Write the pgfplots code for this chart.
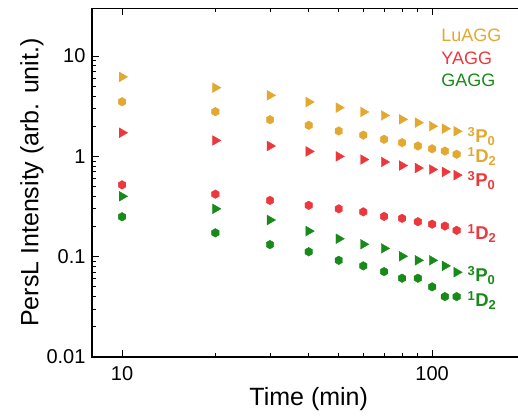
\documentclass[border=0pt]{standalone}
\usepackage{fontspec}
\setmainfont{Liberation Sans}
\usepackage{pgfplots}
\pgfplotsset{compat=1.18}

\definecolor{luagg}{RGB}{227,168,48}
\definecolor{yagg}{RGB}{236,56,60}
\definecolor{gagg}{RGB}{24,138,26}

% filled hexagon mark
\pgfdeclareplotmark{hexagon*}{%
  \pgfpathmoveto{\pgfpointpolar{90}{\pgfplotmarksize}}%
  \pgfpathlineto{\pgfpointpolar{150}{\pgfplotmarksize}}%
  \pgfpathlineto{\pgfpointpolar{210}{\pgfplotmarksize}}%
  \pgfpathlineto{\pgfpointpolar{270}{\pgfplotmarksize}}%
  \pgfpathlineto{\pgfpointpolar{330}{\pgfplotmarksize}}%
  \pgfpathlineto{\pgfpointpolar{30}{\pgfplotmarksize}}%
  \pgfpathclose\pgfusepathqfillstroke}

\newcommand{\lvl}[3]{\textsuperscript{#1}#2\textsubscript{#3}}

\begin{document}
\begin{tikzpicture}
\begin{axis}[
  at={(0pt,0pt)}, anchor=south west,
  scale only axis, width=433.4pt, height=348.8pt,
  xmode=log, ymode=log,
  xmin=8, xmax=200, ymin=0.01, ymax=30,
  xtick={10,100}, xticklabels={10,100},
  ytick={0.01,0.1,1,10}, yticklabels={0.01,0.1,1,10},
  tick align=inside,
  major tick length=7pt, minor tick length=3.8pt,
  axis line style={line width=1.1pt},
  every tick/.style={black, line width=0.9pt},
  /pgf/number format/assume math mode=true,
  ticklabel style={font=\fontsize{20}{24}\selectfont},
  xticklabel style={yshift=-6pt},
  yticklabel style={xshift=-3pt},
  xlabel={Time (min)}, ylabel={PersL Intensity (arb. unit.)},
  label style={font=\fontsize{25}{30}\selectfont},
  xlabel style={yshift=0pt},
  ylabel style={yshift=-4pt},
  clip=false,
]
% 3P0 emission (triangles)
\addplot[only marks, mark=triangle*, mark size=5.6pt, color=luagg,
  every mark/.append style={rotate=-90}] coordinates {
  (10,6.2) (20,4.84) (30,4.06) (40,3.48) (50,3.06) (60,2.77)
  (70,2.56) (80,2.34) (90,2.17) (100,2.0) (110,1.89) (120,1.78)};
\addplot[only marks, mark=triangle*, mark size=5.6pt, color=yagg,
  every mark/.append style={rotate=-90}] coordinates {
  (10,1.72) (20,1.44) (30,1.27) (40,1.12) (50,1.0) (60,0.93)
  (70,0.88) (80,0.81) (90,0.765) (100,0.74) (110,0.70) (120,0.65)};
\addplot[only marks, mark=triangle*, mark size=5.6pt, color=gagg,
  every mark/.append style={rotate=-90}] coordinates {
  (10,0.40) (20,0.30) (30,0.232) (40,0.18) (50,0.151) (60,0.133)
  (70,0.121) (80,0.101) (90,0.092) (100,0.092) (110,0.081) (120,0.070)};
% 1D2 emission (hexagons)
\addplot[only marks, mark=hexagon*, mark size=4.3pt, color=luagg] coordinates {
  (10,3.5) (20,2.79) (30,2.32) (40,2.04) (50,1.79) (60,1.63)
  (70,1.48) (80,1.37) (90,1.27) (100,1.19) (110,1.13) (120,1.05)};
\addplot[only marks, mark=hexagon*, mark size=4.3pt, color=yagg] coordinates {
  (10,0.52) (20,0.42) (30,0.364) (40,0.325) (50,0.30) (60,0.28)
  (70,0.252) (80,0.241) (90,0.223) (100,0.211) (110,0.202) (120,0.183)};
\addplot[only marks, mark=hexagon*, mark size=4.3pt, color=gagg] coordinates {
  (10,0.25) (20,0.173) (30,0.132) (40,0.112) (50,0.092) (60,0.081)
  (70,0.071) (80,0.061) (90,0.061) (100,0.050) (110,0.040) (120,0.040)};

% sample names
\begin{scope}[every node/.style={anchor=base west, inner sep=0pt,
    font=\fontsize{18}{22}\selectfont}]
  \node[text=luagg] at (axis cs:107,14.0) {LuAGG};
  \node[text=yagg]  at (axis cs:107,8.27) {YAGG};
  \node[text=gagg]  at (axis cs:107,4.99) {GAGG};
\end{scope}

% transition labels
\begin{scope}[every node/.style={anchor=base west, inner sep=0pt,
    font=\fontsize{18.5}{22}\selectfont\bfseries}]
  \node[text=luagg] at (axis cs:130,1.38)   {\lvl{3}{P}{0}};
  \node[text=luagg] at (axis cs:130,0.87)   {\lvl{1}{D}{2}};
  \node[text=yagg]  at (axis cs:130,0.50)   {\lvl{3}{P}{0}};
  \node[text=yagg]  at (axis cs:130,0.149)  {\lvl{1}{D}{2}};
  \node[text=gagg]  at (axis cs:130,0.0567) {\lvl{3}{P}{0}};
  \node[text=gagg]  at (axis cs:130,0.032)  {\lvl{1}{D}{2}};
\end{scope}
\end{axis}
\pgfresetboundingbox
\useasboundingbox (-92pt,-62pt) rectangle (426pt,357pt);
\end{tikzpicture}
\end{document}
